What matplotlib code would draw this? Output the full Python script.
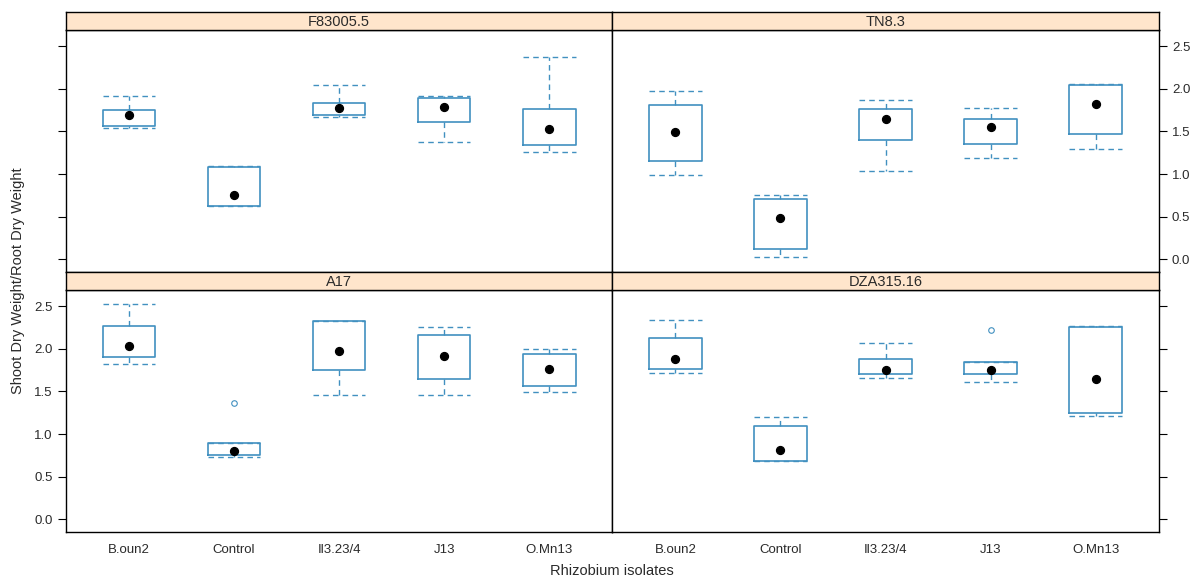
import matplotlib
matplotlib.use("Agg")
import matplotlib.pyplot as plt

plt.rcParams['font.family'] = ['Liberation Sans', 'DejaVu Sans']

categories = ["B.oun2", "Control", "Il3.23/4", "J13", "O.Mn13"]
panels = ["F83005.5", "TN8.3", "A17", "DZA315.16"]

# each: [whisker low, q1, median, q3, whisker high]
f83005_stats = [[1.545, 1.565, 1.698, 1.749, 1.913],
                [0.623, 0.630, 0.751, 1.084, 1.092],
                [1.675, 1.694, 1.776, 1.835, 2.039],
                [1.381, 1.616, 1.788, 1.894, 1.913],
                [1.260, 1.338, 1.534, 1.768, 2.375]]
f83005_out = [[], [], [], [], []]

tn83_stats = [[0.993, 1.157, 1.493, 1.813, 1.975],
              [0.031, 0.125, 0.481, 0.711, 0.758],
              [1.035, 1.403, 1.649, 1.758, 1.864],
              [1.192, 1.356, 1.551, 1.649, 1.778],
              [1.291, 1.471, 1.818, 2.049, 2.061]]
tn83_out = [[], [], [], [], []]

a17_stats = [[1.824, 1.903, 2.032, 2.270, 2.520],
             [0.734, 0.750, 0.797, 0.898, 0.898],
             [1.457, 1.746, 1.977, 2.325, 2.325],
             [1.457, 1.648, 1.911, 2.157, 2.251],
             [1.489, 1.559, 1.766, 1.934, 2.000]]
a17_out = [[], [1.363], [], [], []]

dza_stats = [[1.711, 1.758, 1.876, 2.125, 2.336],
             [0.680, 0.680, 0.809, 1.094, 1.196],
             [1.653, 1.700, 1.754, 1.883, 2.063],
             [1.613, 1.700, 1.754, 1.848, 1.848],
             [1.207, 1.246, 1.641, 2.258, 2.270]]
dza_out = [[], [], [], [2.219], []]

yticks = [0.0, 0.5, 1.0, 1.5, 2.0, 2.5]
ylim = (-0.143, 2.685)

W, H = 1190, 581
fig = plt.figure(figsize=(W / 100, H / 100), dpi=100)

BLUE = "#4190c0"
STRIP = "#ffe5cc"
TXT = "#2a2a2a"

xl, xr = 66, 1158.7
xm = 612.3
rows = [(12.3, 30.3, 271.7), (271.7, 290.3, 531.7)]

def fx(px):
    return px / W

def fy(py):
    return 1 - py / H

data = [(f83005_stats, f83005_out), (tn83_stats, tn83_out),
        (a17_stats, a17_out), (dza_stats, dza_out)]

for i, name in enumerate(panels):
    r, c = divmod(i, 2)
    s_top, p_top, p_bot = rows[r]
    x0 = xl if c == 0 else xm
    x1 = xm if c == 0 else xr
    ax = fig.add_axes([fx(x0), fy(p_bot), fx(x1 - x0), fy(p_top) - fy(p_bot)])
    sax = fig.add_axes([fx(x0), fy(p_top), fx(x1 - x0), fy(s_top) - fy(p_top)])
    sax.set_facecolor(STRIP)
    sax.set_xticks([]); sax.set_yticks([])
    for sp in sax.spines.values():
        sp.set_linewidth(1.0)
    sax.text(0.5, 0.45, name, ha='center', va='center', fontsize=10.5, color=TXT,
             transform=sax.transAxes)

    stats, outs = data[i]
    bx = []
    for st, o in zip(stats, outs):
        bx.append(dict(whislo=st[0], q1=st[1], med=st[2], q3=st[3], whishi=st[4], fliers=o))
    pos = list(range(1, len(categories) + 1))
    ax.bxp(bx, positions=pos, widths=0.5, capwidths=0.5, showfliers=True,
           boxprops=dict(color=BLUE, linewidth=1.2),
           whiskerprops=dict(color=BLUE, linewidth=1.0, linestyle=(0, (4, 3))),
           capprops=dict(color=BLUE, linewidth=1.0, linestyle=(0, (4, 3))),
           medianprops=dict(linewidth=0),
           flierprops=dict(marker='o', markersize=4, markerfacecolor='none',
                           markeredgecolor=BLUE, markeredgewidth=0.8))
    ax.scatter(pos, [st[2] for st in stats], s=32, color='black', zorder=5)

    ax.set_xlim(0.4, len(categories) + 0.6)
    ax.set_ylim(*ylim)
    ax.set_yticks(yticks)
    ax.tick_params(axis='y', direction='out', length=6, width=0.8, labelsize=9.5,
                   labelcolor=TXT,
                   left=(c == 0), right=(c == 1),
                   labelleft=(r == 1 and c == 0), labelright=(r == 0 and c == 1))
    if r == 1:
        ax.set_xticks(pos)
        ax.set_xticklabels(categories, fontsize=9.5, color=TXT)
        ax.tick_params(axis='x', length=0, pad=9)
    else:
        ax.set_xticks([])
    for sp in ax.spines.values():
        sp.set_linewidth(1.0)

fig.text(fx(18), fy((30.3 + 531.7) / 2), "Shoot Dry Weight/Root Dry Weight",
         rotation=90, ha='center', va='center', fontsize=10.5, color=TXT)
fig.text(fx((xl + xr) / 2), fy(571), "Rhizobium isolates", ha='center', va='center',
         fontsize=10.5, color=TXT)

fig.savefig("out.png", dpi=100)
